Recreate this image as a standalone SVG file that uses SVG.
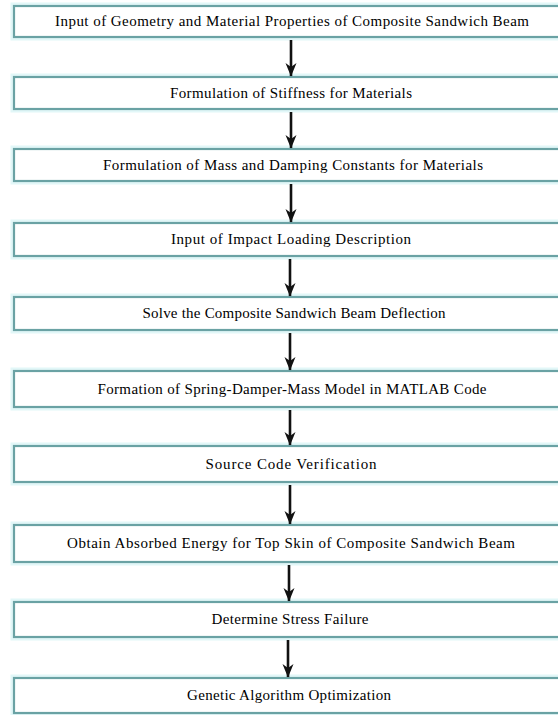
<svg xmlns="http://www.w3.org/2000/svg" width="558" height="715" viewBox="0 0 558 715">
<style>
.glow{fill:none;stroke:#e2f7f8;stroke-width:7}
.box{fill:#ffffff;stroke:#6aa2a4;stroke-width:2.2}
.lbl{font-family:"Liberation Serif","Times New Roman",serif;font-size:15px;fill:#000000;text-anchor:middle}
.arr{stroke:#111;stroke-width:2.6;fill:none;marker-end:url(#ah)}
</style>
<defs>
<marker id="ah" markerUnits="userSpaceOnUse" markerWidth="14" markerHeight="12" viewBox="0 0 14 12" refX="13" refY="6" orient="auto">
<path d="M0,0.5 L13.5,6 L0,11.5 L4,6 Z" fill="#111"/>
</marker>
</defs>
<rect width="558" height="715" fill="#ffffff"/>
<g id="n1"><rect class="glow" x="14" y="6" width="560" height="31"/><rect class="box" x="14" y="6" width="560" height="31"/><text class="lbl" x="292" y="26" textLength="474" lengthAdjust="spacing">Input of Geometry and Material Properties of Composite Sandwich Beam</text></g>
<g id="n2"><rect class="glow" x="14" y="77" width="560" height="32"/><rect class="box" x="14" y="77" width="560" height="32"/><text class="lbl" x="291" y="98" textLength="242" lengthAdjust="spacing">Formulation of Stiffness for Materials</text></g>
<g id="n3"><rect class="glow" x="14" y="149" width="560" height="32"/><rect class="box" x="14" y="149" width="560" height="32"/><text class="lbl" x="293" y="170" textLength="380" lengthAdjust="spacing">Formulation of Mass and Damping Constants for Materials</text></g>
<g id="n4"><rect class="glow" x="14" y="223" width="560" height="33"/><rect class="box" x="14" y="223" width="560" height="33"/><text class="lbl" x="291" y="244" textLength="240" lengthAdjust="spacing">Input of Impact Loading Description</text></g>
<g id="n5"><rect class="glow" x="14" y="297" width="560" height="33"/><rect class="box" x="14" y="297" width="560" height="33"/><text class="lbl" x="294" y="318" textLength="303" lengthAdjust="spacing">Solve the Composite Sandwich Beam Deflection</text></g>
<g id="n6"><rect class="glow" x="14" y="371" width="560" height="36"/><rect class="box" x="14" y="371" width="560" height="36"/><text class="lbl" x="292" y="394" textLength="389" lengthAdjust="spacing">Formation of Spring-Damper-Mass Model in MATLAB Code</text></g>
<g id="n7"><rect class="glow" x="14" y="446" width="560" height="36"/><rect class="box" x="14" y="446" width="560" height="36"/><text class="lbl" x="291" y="469" textLength="171" lengthAdjust="spacing">Source Code Verification</text></g>
<g id="n8"><rect class="glow" x="14" y="525" width="560" height="37"/><rect class="box" x="14" y="525" width="560" height="37"/><text class="lbl" x="291" y="548" textLength="448" lengthAdjust="spacing">Obtain Absorbed Energy for Top Skin of Composite Sandwich Beam</text></g>
<g id="n9"><rect class="glow" x="14" y="602" width="560" height="35"/><rect class="box" x="14" y="602" width="560" height="35"/><text class="lbl" x="290" y="624" textLength="157" lengthAdjust="spacing">Determine Stress Failure</text></g>
<g id="n10"><rect class="glow" x="14" y="678" width="560" height="35"/><rect class="box" x="14" y="678" width="560" height="35"/><text class="lbl" x="289" y="700" textLength="204" lengthAdjust="spacing">Genetic Algorithm Optimization</text></g>
<g id="connectors">
<line class="arr" x1="291" y1="40" x2="291" y2="76"/>
<line class="arr" x1="291" y1="112" x2="291" y2="148"/>
<line class="arr" x1="291" y1="184" x2="291" y2="222"/>
<line class="arr" x1="290" y1="259" x2="290" y2="296"/>
<line class="arr" x1="290" y1="333" x2="290" y2="370"/>
<line class="arr" x1="290" y1="410" x2="290" y2="445"/>
<line class="arr" x1="290" y1="485" x2="290" y2="524"/>
<line class="arr" x1="289" y1="565" x2="289" y2="601"/>
<line class="arr" x1="288" y1="640" x2="288" y2="677"/>
</g>
</svg>
